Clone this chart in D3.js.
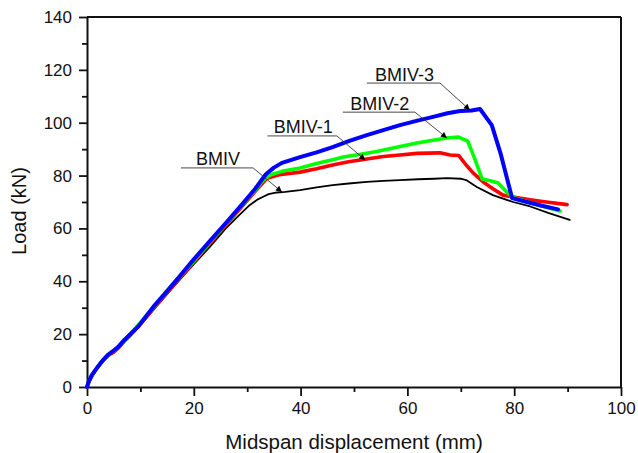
<!DOCTYPE html>
<html>
<head>
<meta charset="utf-8">
<script src="https://cdn.jsdelivr.net/npm/d3@7"></script>
<style>
  html, body { margin: 0; padding: 0; background: #fff; }
  svg { display: block; font-family: "Liberation Sans", Arial, sans-serif; }
</style>
</head>
<body>
<svg id="chart" width="638" height="453"></svg>
<script>
// Load–midspan displacement curves, [displacement mm, load kN]
const bmiv = [[0,0],[0.5,2.5],[1,4.5],[2,7.3],[3,9.8],[4,11.8],[5,13.2],[6,15],[8,19],[10,23.5],[13,30.5],[16,37.5],[20,46.5],[23,53],[26,60],[28.5,65],[30.5,68.9],[32,71],[33,72],[34,73],[35.6,73.6],[37.1,73.8],[39.9,74.5],[43,75.5],[46,76.4],[49,77],[52.4,77.6],[55.5,78],[58.6,78.3],[62,78.6],[65,78.8],[67.4,79],[70,78.8],[71,78.3],[73,75.7],[76,72.6],[79.8,70],[83,68.3],[86.5,65.8],[90.4,63.2]];
const bmiv1 = [[0,0],[0.5,2.5],[1,4.5],[2,7.5],[3,10],[4,12],[5,13.2],[6,15],[7,17.5],[10,23.8],[13,31],[16,38],[20,47.3],[23,54.3],[26,61.3],[29,68.3],[31.5,74],[33.7,79],[36,80.3],[39.9,81.3],[43,82.6],[46,84],[49,85.2],[52.4,86.3],[55.5,87.2],[58.6,87.8],[61.8,88.4],[64,88.5],[66.1,88.6],[68,87.8],[69.6,87.6],[71,84],[72.3,81],[74.2,77.6],[76,75],[77.9,72.6],[79.8,71.9],[83,70.8],[86,70],[89.9,69]];
const bmiv2 = [[0,0],[0.4,2.5],[1,4.7],[2,7.6],[3,10.2],[4,12.3],[5,13.8],[6,15.5],[8,19.8],[10,24.3],[13,31.5],[16,38.7],[20,47.7],[23,54.7],[26,61.7],[29,68.7],[31.5,74.5],[33,78.3],[34.3,80.2],[36.5,81.6],[39.9,82.9],[43,84.6],[46,86],[48,87],[51,88],[54,89],[57.3,90.4],[60,91.6],[61.8,92.3],[64.5,93.3],[67.4,94.2],[69.5,94.6],[71.3,93],[72.5,87],[74,78.7],[75.5,78],[77,77.2],[78.5,74],[79.6,71.9],[82,70.4],[85,68.6],[88.6,66.6]];
const bmiv3 = [[0,0],[0.3,2],[0.9,4.5],[2,7.6],[3,10.2],[4,12.3],[5,13.8],[5.8,15.1],[7,17.8],[9.6,22.9],[12.7,31],[15,36.3],[17,41],[20,48.3],[23,55.2],[26,62],[29,69],[31.5,75],[33.5,80.5],[35,83],[36.5,84.8],[39.9,87],[43,88.8],[46,90.8],[49,93],[52.4,95.3],[55.5,97.2],[58.6,99.1],[61.7,100.7],[64.8,102.2],[67.5,103.6],[69.9,104.4],[72,104.6],[73.6,105.2],[75.8,99.1],[77.5,88],[79.6,71.5],[82,70.2],[85,68.7],[88.2,67.2]];

const seriesNames = ["BMIV", "BMIV-1", "BMIV-2", "BMIV-3"];
const seriesData = [bmiv, bmiv1, bmiv2, bmiv3];
const seriesColors = ["#000000", "#ff0000", "#00ff00", "#0000ff"];
const seriesWidths = [1.8, 3.6, 3.6, 4];

// Callout labels: underline span (x0..x1 at load y) and arrow tip on the curve
const labelX0 = [17.6, 33.8, 47.9, 52.4];
const labelX1 = [31.1, 46.8, 61.4, 66.1];
const labelY = [82.9, 95.0, 104.0, 115.0];
const tipX = [36.5, 52.1, 67.4, 71.7];
const tipY = [73.8, 85.9, 94.2, 104.8];

const xMajor = [0, 20, 40, 60, 80, 100];
const xMinor = [10, 30, 50, 70, 90];
const yMajor = [0, 20, 40, 60, 80, 100, 120, 140];
const yMinor = [10, 30, 50, 70, 90, 110, 130];

const svg = d3.select("#chart");
const x = d3.scaleLinear().domain([0, 100]).range([87, 621]);
const y = d3.scaleLinear().domain([0, 140]).range([387, 17]);

const axisColor = "#111";

// minor ticks
svg.append("g").attr("transform", `translate(0,${y(0)})`)
  .call(d3.axisBottom(x).tickValues(xMinor).tickSize(5).tickFormat(""))
  .call(g => g.select(".domain").remove());
svg.append("g").attr("transform", `translate(${x(0)},0)`)
  .call(d3.axisLeft(y).tickValues(yMinor).tickSize(5).tickFormat(""))
  .call(g => g.select(".domain").remove());

// major ticks + labels
const xAxis = svg.append("g").attr("transform", `translate(0,${y(0)})`)
  .call(d3.axisBottom(x).tickValues(xMajor).tickSize(9).tickSizeOuter(0).tickPadding(6));
const yAxis = svg.append("g").attr("transform", `translate(${x(0)},0)`)
  .call(d3.axisLeft(y).tickValues(yMajor).tickSize(8).tickSizeOuter(0).tickPadding(7));

svg.selectAll(".tick line").attr("stroke", axisColor).attr("stroke-width", 1.8);
svg.selectAll(".domain").attr("stroke", axisColor).attr("stroke-width", 2);
svg.selectAll(".tick text").attr("font-size", 17).attr("fill", "#111")
  .attr("font-family", "Liberation Sans, Arial, sans-serif");

// top and right frame
svg.append("line").attr("x1", x(0)).attr("x2", x(100)).attr("y1", y(140)).attr("y2", y(140))
  .attr("stroke", axisColor).attr("stroke-width", 2);
svg.append("line").attr("x1", x(100)).attr("x2", x(100)).attr("y1", y(140)).attr("y2", y(0))
  .attr("stroke", axisColor).attr("stroke-width", 2);

// axis titles
svg.append("text").attr("x", (x(0) + x(100)) / 2).attr("y", 449)
  .attr("text-anchor", "middle").attr("font-size", 20.5).attr("fill", "#111")
  .text("Midspan displacement (mm)");
svg.append("text").attr("transform", `translate(26,${211}) rotate(-90)`)
  .attr("text-anchor", "middle").attr("font-size", 20).attr("fill", "#111")
  .text("Load (kN)");

// curves
const line = d3.line().x(d => x(d[0])).y(d => y(d[1]));
seriesData.forEach((data, i) => {
  svg.append("path").datum(data)
    .attr("d", line)
    .attr("fill", "none")
    .attr("stroke", seriesColors[i])
    .attr("stroke-width", seriesWidths[i])
    .attr("stroke-linejoin", "round")
    .attr("stroke-linecap", "round");
});

// arrow head
svg.append("defs").append("marker")
  .attr("id", "arrow").attr("viewBox", "0 0 10 10")
  .attr("refX", 10).attr("refY", 5)
  .attr("markerWidth", 9).attr("markerHeight", 6)
  .attr("markerUnits", "userSpaceOnUse")
  .attr("orient", "auto")
  .append("path").attr("d", "M0,0 L10,5 L0,10 z").attr("fill", "#000");

// callouts
seriesNames.forEach((name, i) => {
  const g = svg.append("g");
  g.append("path")
    .attr("d", `M${x(labelX0[i])},${y(labelY[i])} L${x(labelX1[i])},${y(labelY[i])} L${x(tipX[i])},${y(tipY[i])}`)
    .attr("fill", "none").attr("stroke", "#333").attr("stroke-width", 0.9)
    .attr("marker-end", "url(#arrow)");
  g.append("text")
    .attr("x", (x(labelX0[i]) + x(labelX1[i])) / 2 + 1)
    .attr("y", y(labelY[i]) - 2.5)
    .attr("text-anchor", "middle").attr("font-size", 18).attr("fill", "#111")
    .text(name);
});
</script>
</body>
</html>
